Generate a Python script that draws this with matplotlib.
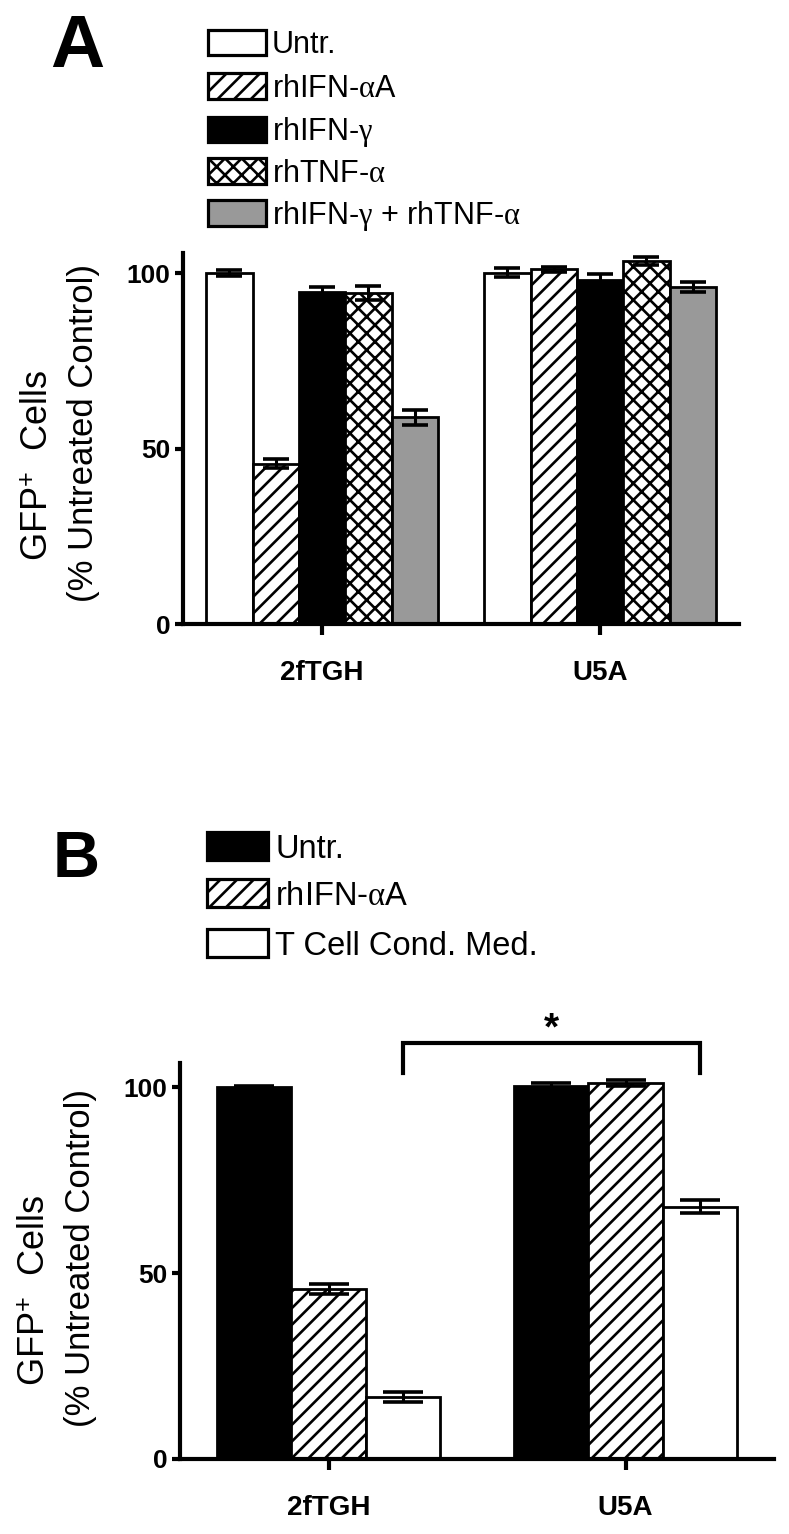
import matplotlib
matplotlib.use("Agg")
import matplotlib.pyplot as plt
from matplotlib.patches import Rectangle
import numpy as np

plt.rcParams['font.family'] = ['Liberation Sans', 'DejaVu Sans']
plt.rcParams['hatch.linewidth'] = 1.9
plt.rcParams['mathtext.fontset'] = 'custom'
plt.rcParams['mathtext.rm'] = 'Liberation Sans'
plt.rcParams['mathtext.it'] = 'Liberation Serif'
plt.rcParams['mathtext.bf'] = 'Liberation Sans:bold'

# ---------------- data ----------------
groups = ['2fTGH', 'U5A']

# Panel A
a_labels = ['Untr.', r'rhIFN-$\alpha$A', r'rhIFN-$\gamma$', r'rhTNF-$\alpha$',
            r'rhIFN-$\gamma$ + rhTNF-$\alpha$']
a_untr = [100.0, 100.1]
a_ifna = [45.7, 101.0]
a_ifng = [94.6, 98.0]
a_tnf = [94.3, 103.4]
a_combo = [58.9, 95.9]
a_untr_err = [0.9, 1.2]
a_ifna_err = [1.3, 0.8]
a_ifng_err = [1.5, 1.8]
a_tnf_err = [2.0, 1.2]
a_combo_err = [2.2, 1.4]

# Panel B
b_labels = ['Untr.', r'rhIFN-$\alpha$A', 'T Cell Cond. Med.']
b_untr = [100.0, 100.2]
b_ifna = [45.8, 101.0]
b_tcm = [16.6, 67.9]
b_untr_err = [0.4, 1.0]
b_ifna_err = [1.3, 0.8]
b_tcm_err = [1.3, 1.8]

y_ticks = [0, 50, 100]

# ---------------- styles ----------------
a_styles = [dict(facecolor='white', hatch=None),
            dict(facecolor='white', hatch='//'),
            dict(facecolor='black', hatch=None),
            dict(facecolor='white', hatch='xx'),
            dict(facecolor='#999999', hatch=None)]
b_styles = [dict(facecolor='black', hatch=None),
            dict(facecolor='white', hatch='//'),
            dict(facecolor='white', hatch=None)]

W, H, DPI = 789, 1534, 100
fig = plt.figure(figsize=(W / DPI, H / DPI), dpi=DPI)


def fx(x):
    return x / W


def fy(y):
    return 1 - y / H


def make_axes(left, right, top, bottom):
    return fig.add_axes([fx(left), fy(bottom), fx(right) - fx(left), fy(top) - fy(bottom)])


def style_axes(ax, ytop):
    ax.set_xlim(-0.5, 1.5)
    ax.set_ylim(0, ytop)
    for s in ['top', 'right']:
        ax.spines[s].set_visible(False)
    for s in ['left', 'bottom']:
        ax.spines[s].set_linewidth(3)
    ax.set_yticks(y_ticks)
    ax.set_xticks(range(len(groups)))
    ax.set_xticklabels(groups)
    ax.tick_params(axis='y', direction='out', length=6, width=3, pad=3, labelsize=19)
    ax.tick_params(axis='x', direction='out', length=8, width=3, pad=18, labelsize=20)
    for lab in ax.get_xticklabels() + ax.get_yticklabels():
        lab.set_fontweight('bold')


def draw_bars(ax, series, errs, styles, capsize):
    n = len(series)
    w = 1.0 / (n + 1)
    xc = np.arange(len(groups))
    for i, (vals, err, st) in enumerate(zip(series, errs, styles)):
        xs = xc + (i - (n - 1) / 2) * w
        ax.bar(xs, vals, width=w, facecolor=st['facecolor'], hatch=st['hatch'],
               edgecolor='black', linewidth=2.0, zorder=2)
        ax.errorbar(xs, vals, yerr=err, fmt='none', ecolor='black', elinewidth=2.2,
                    capsize=capsize, capthick=2.6, zorder=3)
    return w


def ylabel(xc1, xc2, yc):
    fig.text(fx(xc1), fy(yc + 32), 'GFP$^{+}$  Cells', rotation=90, ha='center', va='center',
             fontsize=26)
    fig.text(fx(xc2), fy(yc), '(% Untreated Control)', rotation=90, ha='center', va='center',
             fontsize=25)


def legend(labels, styles, x0, x1, y_centers, h, tx, fs):
    for lab, st, yc in zip(labels, styles, y_centers):
        r = Rectangle((fx(x0), fy(yc + h / 2)), fx(x1) - fx(x0), fy(yc - h / 2) - fy(yc + h / 2),
                      transform=fig.transFigure, facecolor=st['facecolor'], hatch=st['hatch'],
                      edgecolor='black', linewidth=2.3)
        fig.add_artist(r)
        fig.text(fx(tx), fy(yc + 0.36 * fs * DPI / 72), lab, ha='left', va='baseline', fontsize=fs)


# ---------------- Panel A ----------------
axA = make_axes(183, 739, 253, 624)
style_axes(axA, 105.7)
draw_bars(axA, [a_untr, a_ifna, a_ifng, a_tnf, a_combo],
          [a_untr_err, a_ifna_err, a_ifng_err, a_tnf_err, a_combo_err], a_styles, 9.7)
fig.text(fx(50), fy(67), 'A', fontsize=54, fontweight='bold', ha='left', va='baseline')
legend(a_labels, a_styles, 208, 266, [42, 86, 129, 171, 213], 25, 272, 22)
ylabel(38, 84, 433)

# ---------------- Panel B ----------------
axB = make_axes(180, 774, 1063, 1459)
style_axes(axB, 106.5)
wb = draw_bars(axB, [b_untr, b_ifna, b_tcm], [b_untr_err, b_ifna_err, b_tcm_err], b_styles, 14.4)
fig.text(fx(53), fy(877), 'B', fontsize=47, fontweight='bold', ha='left', va='baseline')
legend(b_labels, b_styles, 207, 268, [846, 893, 943], 28, 275, 23.5)
ylabel(35, 81, 1258)

# significance bracket between the T-cell conditioned medium bars
x_left = 0 + wb
x_right = 1 + wb
y_leg, y_top = 103.9, 111.8
axB.plot([x_left, x_left, x_right, x_right], [y_leg, y_top, y_top, y_leg], color='black',
         linewidth=3, clip_on=False, solid_joinstyle='miter')
axB.text((x_left + x_right) / 2, 112.8, '*', ha='center', va='baseline', fontsize=28,
         fontweight='bold', clip_on=False)

fig.savefig('out.png', dpi=DPI)
